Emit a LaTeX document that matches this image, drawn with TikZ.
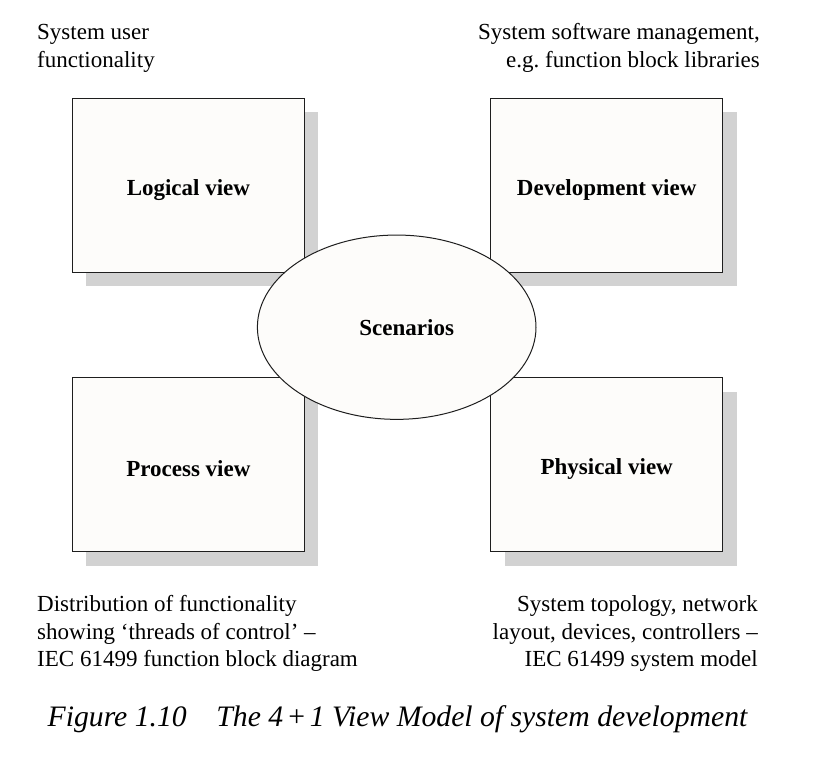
\documentclass[tikz,border=0pt]{standalone}
\usepackage{fontspec}
\setmainfont{Liberation Serif}
\usetikzlibrary{positioning, shapes.geometric, shadows}
\definecolor{ViewFill}{HTML}{FDFCFA}
\definecolor{ViewShadow}{HTML}{D2D2D2}
\definecolor{ViewLine}{HTML}{1E1E1E}
\tikzset{
  viewbox/.style={draw=ViewLine, line width=1.3pt, fill=ViewFill,
    minimum width=232pt, minimum height=174pt, inner sep=0pt,
    text height=25pt, text depth=5pt,
    font=\fontsize{23}{27.5}\selectfont\bfseries,
    drop shadow={shadow xshift=14pt, shadow yshift=-14pt, fill=ViewShadow, opacity=1}},
  scenario/.style={ellipse, draw=ViewLine, line width=1pt, fill=ViewFill,
    minimum width=278.6pt, minimum height=184.3pt, inner sep=0pt},
  viewtext/.style={font=\fontsize{23}{27.5}\selectfont\bfseries, inner sep=0pt},
  note/.style={font=\fontsize{23}{27.5}\selectfont, inner sep=0pt}
}

\begin{document}
\begin{tikzpicture}[x=1pt, y=-1pt]
  \useasboundingbox (0,0) rectangle (838,758);
  % Comments on the four views
  \node[note, anchor=base west, align=left] (userNote) at (37,67)
    {System user\\functionality};
  \node[note, anchor=base east, align=right] (softNote) at (760,67)
    {System software management,\\e.g.\ function block libraries};
  \node[note, anchor=base west, align=left] (distNote) at (37,666.5)
    {Distribution of functionality\\showing `threads of control' --\\IEC 61499 function block diagram};
  \node[note, anchor=base east, align=right] (topoNote) at (758,666.5)
    {System topology, network\\layout, devices, controllers --\\IEC 61499 system model};
  % The four views
  \node[viewbox] (logical) at (188.4,185.3) {Logical view};
  \node[viewbox, right=185pt of logical] (development) {Development view};
  \node[viewbox, below=104pt of logical, text height=28pt] (process) {Process view};
  \node[viewbox, below=104pt of development] (physical) {Physical view};
  % Scenarios on top
  \node[scenario] (scenarios) at (396.7,327.2) {};
  \node[viewtext] (scenText) at ([xshift=10pt]scenarios.center) {Scenarios};
  % Caption
  \node[anchor=base, inner sep=0pt, font=\fontsize{29.7}{34}\selectfont\itshape] (caption) at (397.5,726)
    {Figure 1.10\quad The 4\,{\upshape+}\,1 View Model of system development};
\end{tikzpicture}
\end{document}
